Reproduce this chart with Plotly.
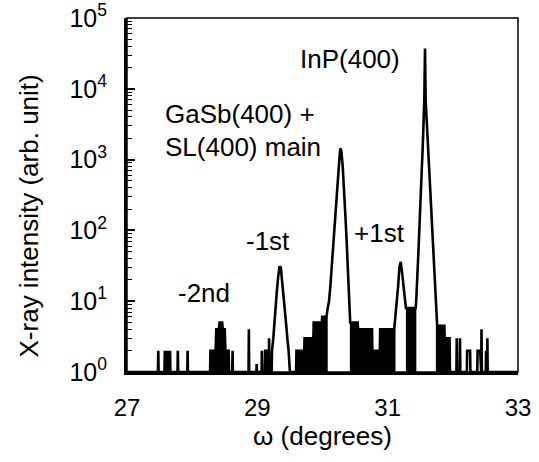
import plotly.graph_objects as go

# ---- scan data (omega in degrees, intensity in arb. units) ----
omega = [
    27.00,
    27.475, 27.48, 27.485, 27.575, 27.58, 27.585, 27.615, 27.62, 27.625,
    27.655, 27.66, 27.665, 27.775, 27.78, 27.785, 27.925, 27.93, 27.935,
    28.275, 28.28, 28.36, 28.37, 28.41, 28.42, 28.46, 28.47, 28.50, 28.51,
    28.56, 28.565, 28.615, 28.62, 28.625,
    28.865, 28.87, 28.875, 28.985, 28.99, 28.995,
    29.065, 29.07, 29.075, 29.115, 29.12, 29.15, 29.155, 29.175, 29.18, 29.185,
    29.22, 29.225,
    29.245, 29.26, 29.28, 29.30, 29.32, 29.34, 29.36, 29.38, 29.40, 29.42,
    29.44, 29.46, 29.48, 29.50,
    29.595, 29.60, 29.72, 29.725, 29.86, 29.865, 29.99, 29.995, 30.06, 30.08,
    30.10, 30.12, 30.145, 30.166, 30.19, 30.218, 30.24, 30.26, 30.275, 30.29,
    30.31, 30.334, 30.35, 30.37, 30.39, 30.405, 30.42,
    30.425, 30.54, 30.545, 30.76, 30.765, 30.88, 30.885, 31.10, 31.12,
    31.14, 31.16, 31.18, 31.20, 31.22, 31.24, 31.26, 31.28,
    31.43,
    31.44, 31.47, 31.51, 31.54, 31.562, 31.573, 31.583, 31.62, 31.66, 31.70,
    31.737, 31.75, 31.76, 31.87, 31.875, 31.95, 31.955,
    32.055, 32.06, 32.065, 32.105, 32.11, 32.115, 32.215, 32.22, 32.265, 32.27,
    32.375, 32.38, 32.42, 32.425, 32.435, 32.44, 32.445, 32.505, 32.51, 32.515,
    32.525, 32.53, 32.535, 33.00,
]
intensity = [
    1,
    1, 2, 1, 1, 2, 1, 1, 2, 1,
    1, 2, 1, 1, 2, 1, 1, 2, 1,
    1, 2, 2, 4, 4, 5, 5, 4, 4, 2,
    2, 1, 1, 2, 1,
    1, 4, 1, 1, 1.3, 1,
    1, 2, 1, 1, 2, 2, 1, 1, 3, 1,
    1, 2,
    3, 5, 8, 14, 22, 31, 30, 20, 12, 8,
    5, 3, 2, 1,
    1, 2, 2, 3, 3, 5, 5, 6, 6, 8,
    10, 16, 35, 73, 150, 372, 620, 1050, 1445, 1300,
    800, 372, 170, 73, 30, 14, 7,
    5, 5, 4, 4, 2, 2, 4, 4, 6,
    9, 16, 30, 36, 26, 17, 12, 8,
    8,
    11, 45, 270, 1700, 6900, 37000, 6900, 1450, 270, 50,
    10.5, 6, 4.5, 4.5, 3, 3, 1,
    1, 3, 1, 1, 3, 1, 1, 2, 2, 1,
    1, 2, 2, 1, 1, 4, 1, 1, 2, 1,
    1, 3, 1, 1,
]

# dense-noise bands (too dense to resolve individual counts): start, end, level
noise_start = [28.28, 28.37, 28.42, 29.60, 29.72, 29.86, 29.99, 30.42, 30.54, 30.76, 30.88, 31.28, 31.74, 31.87]
noise_end   = [28.56, 28.50, 28.46, 29.72, 29.86, 29.99, 30.08, 30.54, 30.76, 30.88, 31.12, 31.44, 31.87, 31.95]
noise_level = [2,     4,     5,     2,     3,     5,     6,     5,     4,     2,     4,     8,     4.5,   3]

x_ticks = [27, 29, 31, 33]
y_tick_vals = [1, 10, 100, 1000, 10000, 100000]
y_tick_text = ["10<sup>%d</sup>" % k for k in range(6)]

labels = ["InP(400)", "GaSb(400) +", "SL(400) main", "-1st", "+1st", "-2nd"]
label_x = [30.42, 27.55, 27.55, 29.165, 30.87, 28.18]
label_logy = [4.42, 3.64, 3.18, 1.85, 1.96, 1.12]
label_anchor = ["center", "left", "left", "center", "center", "center"]

FONT = "Liberation Sans, Arial, sans-serif"

# build filled polygons for noise bands
bx, by = [], []
for s, e, lv in zip(noise_start, noise_end, noise_level):
    bx += [s, e, e, s, s, None]
    by += [1, 1, lv, lv, 1, None]

fig = go.Figure()
fig.add_trace(go.Scatter(x=bx, y=by, mode="lines", fill="toself",
                         fillcolor="black", line=dict(width=0, color="black"),
                         hoverinfo="skip", showlegend=False))
fig.add_trace(go.Scatter(x=omega, y=intensity, mode="lines",
                         line=dict(color="black", width=2.6),
                         showlegend=False))

for t, x, y, a in zip(labels, label_x, label_logy, label_anchor):
    fig.add_annotation(x=x, y=y, text=t, showarrow=False, xanchor=a, yanchor="middle",
                       font=dict(family=FONT, size=26, color="black"))

# y-axis title as rotated paper annotation
fig.add_annotation(xref="paper", yref="paper", x=-0.25, y=0.44,
                   text="X-ray intensity (arb. unit)", textangle=-90, showarrow=False,
                   xanchor="center", yanchor="middle",
                   font=dict(family=FONT, size=26, color="black"))

fig.update_layout(
    width=539, height=462,
    margin=dict(l=127, r=21, t=18, b=90, autoexpand=False),
    paper_bgcolor="white", plot_bgcolor="white",
    font=dict(family=FONT, color="black"),
    xaxis=dict(range=[27, 33], tickmode="array", tickvals=x_ticks,
               showgrid=False, zeroline=False, showline=True, linewidth=3,
               linecolor="black", ticks="", tickfont=dict(size=24),
               ticklabelstandoff=12, automargin=False,
               title=dict(text="ω (degrees)", font=dict(size=26), standoff=8)),
    yaxis=dict(type="log", range=[0, 5], tickmode="array", tickvals=y_tick_vals,
               ticktext=y_tick_text, showgrid=False, zeroline=False,
               showline=True, linewidth=3, linecolor="black",
               ticks="inside", ticklen=8, tickwidth=1.6, tickcolor="black",
               minor=dict(ticks="inside", dtick="D1", ticklen=5, tickwidth=1.2,
                          tickcolor="black", showgrid=False),
               tickfont=dict(size=25), ticklabelstandoff=12, automargin=False),
    shapes=[dict(type="rect", xref="paper", yref="paper", x0=0, x1=1, y0=0, y1=1,
                 line=dict(color="black", width=1.5), fillcolor="rgba(0,0,0,0)")],
)

fig.write_html("out.html", config={"displayModeBar": False},
               post_script="document.body.style.margin='0';")
